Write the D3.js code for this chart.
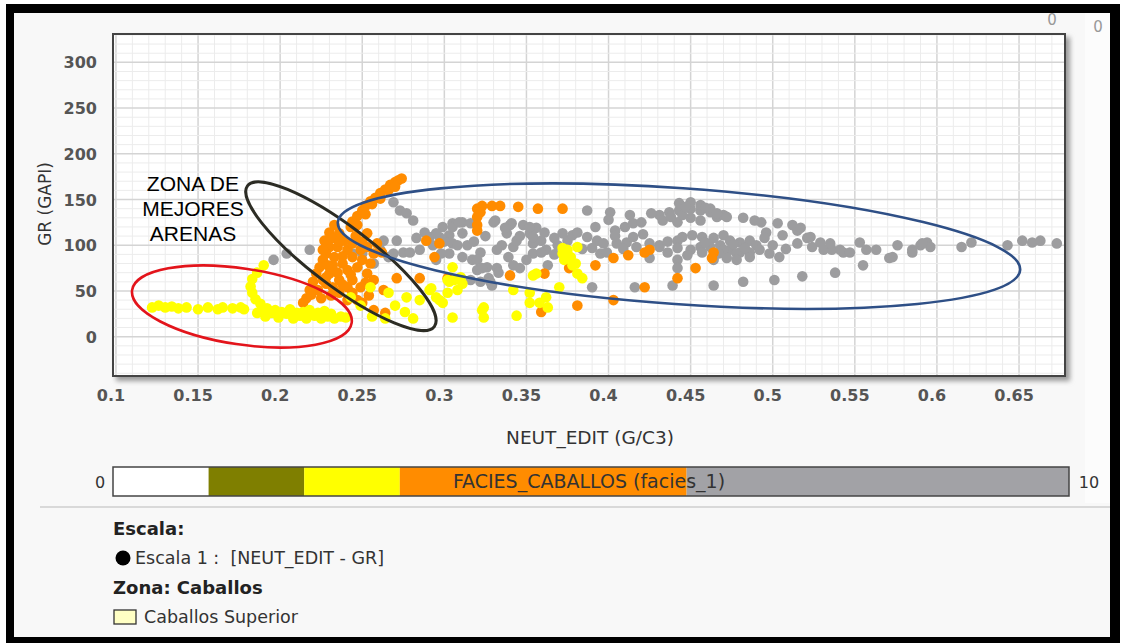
<!DOCTYPE html>
<html>
<head>
<meta charset="utf-8">
<script src="https://cdn.jsdelivr.net/npm/d3@7"></script>
<style>
  body { margin: 0; background: #fff; }
  svg { display: block; }
  text { font-family: "DejaVu Sans", Verdana, sans-serif; }
</style>
</head>
<body>
<script>
// ---- data (NEUT_EDIT in G/C3, GR in GAPI) ----
var xTicks = [0.1, 0.15, 0.2, 0.25, 0.3, 0.35, 0.4, 0.45, 0.5, 0.55, 0.6, 0.65];
var yTicks = [0, 50, 100, 150, 200, 250, 300];

// facies 6-10 (gray)
var grayPts = [
  [0.196,84],[0.204,91],[0.218,95],[0.244,91],[0.250,91],[0.257,80],[0.261,95],[0.263,105],
  [0.266,87],[0.269,91],[0.271,105],[0.269,147],[0.273,138],[0.277,135],[0.281,127],[0.288,114],
  [0.291,109],[0.275,92],[0.279,92],[0.285,95],[0.293,100],[0.283,108],[0.297,109],[0.299,120],
  [0.305,124],[0.311,125],[0.316,124],[0.295,113],[0.303,111],[0.311,113],[0.305,102],[0.314,100],
  [0.303,91],[0.295,84],[0.311,87],[0.317,84],[0.322,92],[0.320,73],[0.326,76],[0.332,75],
  [0.327,64],[0.322,60],[0.316,62],[0.329,56],[0.331,127],[0.341,124],[0.338,113],[0.335,100],
  [0.332,95],[0.342,98],[0.339,87],[0.342,78],[0.348,122],[0.352,113],[0.356,119],[0.361,114],
  [0.354,102],[0.359,105],[0.354,91],[0.350,84],[0.346,75],[0.363,78],[0.362,95],[0.369,100],
  [0.375,105],[0.378,111],[0.381,114],[0.372,113],[0.387,138],[0.401,136],[0.413,133],[0.404,116],
  [0.410,120],[0.415,124],[0.420,125],[0.387,109],[0.393,105],[0.397,102],[0.390,97],[0.395,91],
  [0.399,92],[0.405,102],[0.411,103],[0.415,109],[0.417,98],[0.425,102],[0.431,100],[0.425,86],
  [0.390,54],[0.416,54],[0.431,133],[0.426,135],[0.437,136],[0.443,138],[0.450,140],[0.456,138],
  [0.462,136],[0.433,127],[0.442,125],[0.450,130],[0.456,127],[0.445,133],[0.466,131],[0.470,133],
  [0.482,130],[0.489,127],[0.443,146],[0.450,147],[0.456,144],[0.462,140],[0.466,135],[0.472,131],
  [0.493,125],[0.503,124],[0.512,122],[0.515,116],[0.496,114],[0.495,108],[0.506,111],
  [0.442,105],[0.445,109],[0.451,111],[0.457,109],[0.464,108],[0.470,111],[0.474,105],[0.480,103],
  [0.486,105],[0.490,100],[0.442,97],[0.450,95],[0.456,98],[0.462,98],[0.468,100],[0.474,95],
  [0.480,92],[0.486,92],[0.442,84],[0.442,75],[0.464,84],[0.482,60],[0.464,56],[0.439,56],
  [0.431,98],[0.470,95],[0.478,91],[0.486,87],[0.492,95],[0.498,91],[0.504,87],[0.472,86],
  [0.478,84],[0.515,102],[0.521,108],[0.524,98],[0.531,95],[0.536,95],[0.543,92],[0.553,103],
  [0.557,95],[0.563,95],[0.576,100],[0.585,95],[0.590,100],[0.594,103],[0.596,98],[0.615,98],
  [0.621,103],[0.643,100],[0.652,105],[0.658,103],[0.663,105],[0.673,102],[0.571,86],[0.555,78],
  [0.538,70],[0.518,66],[0.501,62],[0.517,119],[0.523,109],[0.529,103],[0.535,102],[0.541,95],
  [0.547,92],[0.573,87],[0.585,92],[0.591,102],[0.305,120],[0.309,125],[0.308,100],[0.298,91],
  [0.320,84],[0.323,75],[0.333,70],[0.328,60],[0.330,125],[0.340,122],[0.352,120],[0.354,109],
  [0.344,105],[0.447,142],[0.459,141],[0.438,131],[0.476,101],[0.483,97],[0.459,103],[0.436,104],
  [0.436,92],[0.448,89],[0.457,92],[0.467,91],[0.500,100],[0.508,96],[0.404,110],[0.421,112],
  [0.400,128],[0.392,120],[0.367,108],[0.346,110],[0.325,110],[0.318,104],[0.300,104],[0.337,119],
  [0.359,92],[0.367,90],[0.384,96],[0.409,96]
];

// facies 3-6 (orange)
var orangePts = [
  [0.243,120],[0.244,126],[0.247,132],[0.250,138],[0.252,143],[0.255,148],[0.258,152],[0.261,157],
  [0.264,161],[0.267,166],[0.270,169],[0.272,171],[0.274,173],[0.247,122],[0.252,134],[0.256,145],
  [0.261,151],[0.266,160],[0.270,164],
  [0.230,114],[0.232,108],[0.230,98],[0.228,91],[0.226,84],[0.224,76],[0.222,69],[0.220,60],
  [0.218,51],[0.216,42],[0.214,37],[0.236,113],[0.235,98],[0.233,87],[0.232,78],[0.230,69],
  [0.228,58],[0.241,95],[0.244,87],[0.249,95],[0.244,102],[0.253,98],[0.250,84],[0.247,76],
  [0.241,73],[0.236,62],[0.232,54],[0.228,65],[0.244,62],[0.249,54],[0.253,69],[0.255,80],
  [0.257,91],[0.259,102],[0.253,113],[0.241,54],[0.236,48],[0.244,48],[0.247,40],[0.250,37],
  [0.241,40],[0.257,62],[0.263,51],[0.271,64],[0.257,29],[0.264,26],[0.239,105],[0.233,122],
  [0.227,105],[0.223,51],[0.225,42],[0.226,95],[0.238,88],[0.246,110],[0.250,104],[0.238,80],
  [0.243,68],[0.235,70],[0.226,62],[0.238,57],[0.252,59],[0.262,92],[0.231,45],[0.219,46],
  [0.254,45],[0.236,104],[0.229,78],
  [0.285,64],[0.302,64],[0.289,105],[0.297,102],[0.294,87],
  [0.320,140],[0.323,143],[0.329,143],[0.334,143],[0.320,131],[0.320,122],[0.320,116],[0.322,136],
  [0.345,142],[0.357,140],[0.372,140],[0.340,67],[0.361,69],[0.376,75],[0.381,34],[0.359,27],
  [0.392,78],[0.403,86],[0.412,89],[0.422,92],[0.422,54],[0.403,40],[0.442,64],[0.453,75],
  [0.464,92],[0.463,86],[0.425,95]
];

// facies 2-3 (yellow)
var yellowPts = [
  [0.122,32],[0.126,34],[0.130,32],[0.134,33],[0.138,31],[0.143,32],[0.150,30],[0.156,32],
  [0.162,30],[0.165,32],[0.171,31],[0.176,32],[0.178,30],
  [0.190,78],[0.186,70],[0.183,63],[0.182,55],[0.183,48],[0.185,41],[0.188,36],[0.192,31],
  [0.186,26],[0.191,22],[0.195,26],[0.199,21],[0.204,25],[0.208,20],[0.212,23],[0.216,20],
  [0.221,23],[0.225,20],[0.229,22],[0.233,20],[0.237,22],[0.206,30],[0.218,29],[0.227,28],
  [0.197,29],[0.201,27],[0.210,26],[0.214,27],[0.223,26],[0.231,25],[0.240,21],[0.189,29],
  [0.255,54],[0.266,48],[0.277,43],[0.281,20],[0.292,53],[0.295,43],[0.302,48],[0.303,60],
  [0.306,62],[0.310,65],[0.299,37],[0.305,21],[0.323,29],[0.324,21],[0.344,23],[0.342,51],
  [0.352,48],[0.352,37],[0.358,37],[0.363,32],[0.362,43],[0.354,67],[0.375,95],[0.377,87],
  [0.380,80],[0.381,69],[0.372,97],[0.381,98],[0.305,76],[0.302,62],[0.311,58],[0.308,51],
  [0.297,40],[0.324,32],[0.356,69],[0.372,91],[0.373,84],[0.378,78],[0.384,64],[0.370,54],
  [0.291,51],[0.243,43],[0.249,34],[0.270,34],[0.276,27],[0.285,40],[0.256,22],[0.264,20]
];

// facies colour bar: class bounds and colours
var faciesBreaks = [0, 1, 2, 3, 6, 10];
var faciesColors = ["#ffffff", "#7f7f00", "#ffff00", "#ff8c00", "#a2a2a6"];

// ---- layout ----
var W = 1125, H = 643;
var plot = {left: 113, top: 34, right: 1065, bottom: 376};

var x = d3.scaleLinear().domain([0.0982, 0.678]).range([plot.left, plot.right]);
var y = d3.scaleLinear().domain([-43, 331]).range([plot.bottom, plot.top]);

var svg = d3.select("body").append("svg")
    .attr("width", W)
    .attr("height", H);

var defs = svg.append("defs");
defs.append("filter").attr("id", "shadow")
    .attr("x", "-5%").attr("y", "-5%").attr("width", "110%").attr("height", "115%")
  .append("feGaussianBlur").attr("stdDeviation", 2.5);
defs.append("clipPath").attr("id", "clip")
  .append("rect")
    .attr("x", plot.left).attr("y", plot.top)
    .attr("width", plot.right - plot.left).attr("height", plot.bottom - plot.top);

// black frame of the screenshot
svg.append("rect").attr("x", 6).attr("y", 4).attr("width", 1114).attr("height", 650).attr("fill", "#000");
svg.append("rect").attr("x", 14).attr("y", 13).attr("width", 1096).attr("height", 624).attr("fill", "#f8f8f8");
svg.append("rect").attr("x", 1085).attr("y", 13).attr("width", 25).attr("height", 490).attr("fill", "#fcfcfc");

// plot shadow + background
svg.append("rect")
    .attr("x", plot.left + 3).attr("y", plot.top + 3)
    .attr("width", plot.right - plot.left + 2).attr("height", plot.bottom - plot.top + 2)
    .attr("fill", "#9a9a9a")
    .attr("filter", "url(#shadow)");
svg.append("rect")
    .attr("x", plot.left).attr("y", plot.top)
    .attr("width", plot.right - plot.left).attr("height", plot.bottom - plot.top)
    .attr("fill", "#fff");

// grid
var grid = svg.append("g").attr("clip-path", "url(#clip)");
var minorX = d3.range(10, 68).map(function(d) { return d / 100; });
var minorY = d3.range(-40, 331, 10);

grid.selectAll(".mx").data(minorX).enter().append("line")
    .attr("x1", function(d) { return x(d); }).attr("x2", function(d) { return x(d); })
    .attr("y1", plot.top).attr("y2", plot.bottom)
    .attr("stroke", function(d) { return Math.round(d * 100) % 5 === 0 ? "#d4d4d4" : "#ececec"; })
    .attr("stroke-width", function(d) { return Math.round(d * 100) % 5 === 0 ? 1.5 : 1; });

grid.selectAll(".my").data(minorY).enter().append("line")
    .attr("y1", function(d) { return y(d); }).attr("y2", function(d) { return y(d); })
    .attr("x1", plot.left).attr("x2", plot.right)
    .attr("stroke", function(d) { return d % 50 === 0 ? "#d4d4d4" : "#ececec"; })
    .attr("stroke-width", function(d) { return d % 50 === 0 ? 1.5 : 1; });

// points
var pts = svg.append("g").attr("clip-path", "url(#clip)");
function drawPts(data, color) {
  pts.append("g").selectAll("circle")
      .data(data)
    .enter().append("circle")
      .attr("cx", function(d) { return x(d[0]); })
      .attr("cy", function(d) { return y(d[1]); })
      .attr("r", 5.3)
      .attr("fill", color);
}
drawPts(grayPts, "#9d9d9f");
drawPts(orangePts, "#ff8c00");
drawPts(yellowPts, "#ffff00");

// hand drawn zones
var zoneG = svg.append("g").attr("fill", "none");
function zone(cx, cy, rx, ry, rot, color, w) {
  zoneG.append("ellipse")
      .attr("transform", "translate(" + x(cx) + "," + y(cy) + ") rotate(" + rot + ")")
      .attr("rx", rx).attr("ry", ry)
      .attr("stroke", color).attr("stroke-width", w);
}
zone(0.1767, 33, 111, 38, 8.5, "#e3141b", 2.6);
zone(0.237, 88, 117, 30, 37, "#2c2c24", 3);
zone(0.4429, 99, 342, 58, 4, "#2e4f86", 2.6);

// annotation
var ann = svg.append("text")
    .attr("text-anchor", "middle")
    .style("font-family", "'Liberation Sans', Arial, sans-serif")
    .style("font-size", "21px")
    .attr("fill", "#000");
["ZONA DE", "MEJORES", "ARENAS"].forEach(function(t, i) {
  ann.append("tspan").attr("x", x(0.1469)).attr("y", 191 + i * 25).text(t);
});

// plot frame
svg.append("rect")
    .attr("x", plot.left).attr("y", plot.top)
    .attr("width", plot.right - plot.left).attr("height", plot.bottom - plot.top)
    .attr("fill", "none").attr("stroke", "#444").attr("stroke-width", 2);

// tick labels
svg.append("g").selectAll("text").data(xTicks).enter().append("text")
    .attr("x", function(d) { return x(d) - 5; })
    .attr("y", 401)
    .attr("text-anchor", "middle")
    .style("font-size", "16px").style("font-weight", "bold")
    .attr("fill", "#555")
    .text(function(d) { return d; });

svg.append("g").selectAll("text").data(yTicks).enter().append("text")
    .attr("x", 97)
    .attr("y", function(d) { return y(d) + 6; })
    .attr("text-anchor", "end")
    .style("font-size", "16px").style("font-weight", "bold")
    .attr("fill", "#555")
    .text(function(d) { return d; });

// axis titles
svg.append("text")
    .attr("x", 590).attr("y", 444)
    .attr("text-anchor", "middle")
    .style("font-size", "18.5px")
    .attr("fill", "#333")
    .text("NEUT_EDIT (G/C3)");

svg.append("text")
    .attr("transform", "translate(51,204) rotate(-90)")
    .attr("text-anchor", "middle")
    .style("font-size", "17px")
    .attr("fill", "#333")
    .text("GR (GAPI)");

// facies colour bar
var cb = d3.scaleLinear().domain([0, 10]).range([113, 1069]);
var barY = 467, barH = 29;
svg.append("g").selectAll("rect").data(faciesColors).enter().append("rect")
    .attr("x", function(d, i) { return cb(faciesBreaks[i]); })
    .attr("width", function(d, i) { return cb(faciesBreaks[i + 1]) - cb(faciesBreaks[i]); })
    .attr("y", barY).attr("height", barH)
    .attr("fill", function(d) { return d; });
svg.append("rect")
    .attr("x", cb(0)).attr("y", barY).attr("width", cb(10) - cb(0)).attr("height", barH)
    .attr("fill", "none").attr("stroke", "#444").attr("stroke-width", 1.5);
svg.append("text")
    .attr("x", 589).attr("y", barY + 21)
    .attr("text-anchor", "middle")
    .style("font-size", "19px")
    .attr("fill", "#333")
    .text("FACIES_CABALLOS (facies_1)");
svg.append("text").attr("x", 100).attr("y", barY + 21).attr("text-anchor", "middle")
    .style("font-size", "16px").attr("fill", "#333").text(faciesBreaks[0]);
svg.append("text").attr("x", 1089).attr("y", barY + 21).attr("text-anchor", "middle")
    .style("font-size", "16px").attr("fill", "#333").text(faciesBreaks[faciesBreaks.length - 1]);

// top corner zeros
svg.append("text").attr("x", 1052).attr("y", 25).attr("text-anchor", "middle")
    .style("font-size", "15px").attr("fill", "#999").text("0");
svg.append("text").attr("x", 1098).attr("y", 32).attr("text-anchor", "middle")
    .style("font-size", "15px").attr("fill", "#999").text("0");

// separator
svg.append("line").attr("x1", 40).attr("x2", 1110).attr("y1", 507).attr("y2", 507)
    .attr("stroke", "#cfcfcf").attr("stroke-width", 1.5);

// legend
var leg = svg.append("g");
leg.append("text").attr("x", 113).attr("y", 535)
    .style("font-size", "18px").style("font-weight", "bold").attr("fill", "#222").text("Escala:");
leg.append("circle").attr("cx", 123).attr("cy", 558).attr("r", 7.5).attr("fill", "#000");
leg.append("text").attr("x", 135).attr("y", 564)
    .style("font-size", "17.5px").style("white-space", "pre").attr("fill", "#333")
    .text("Escala 1 :  [NEUT_EDIT - GR]");
leg.append("text").attr("x", 113).attr("y", 594)
    .style("font-size", "18px").style("font-weight", "bold").attr("fill", "#222").text("Zona: Caballos");
leg.append("rect").attr("x", 114).attr("y", 610).attr("width", 22).attr("height", 14)
    .attr("fill", "#ffffc4").attr("stroke", "#333").attr("stroke-width", 1.3);
leg.append("text").attr("x", 144).attr("y", 623)
    .style("font-size", "17.5px").attr("fill", "#333").text("Caballos Superior");
</script>
</body>
</html>
